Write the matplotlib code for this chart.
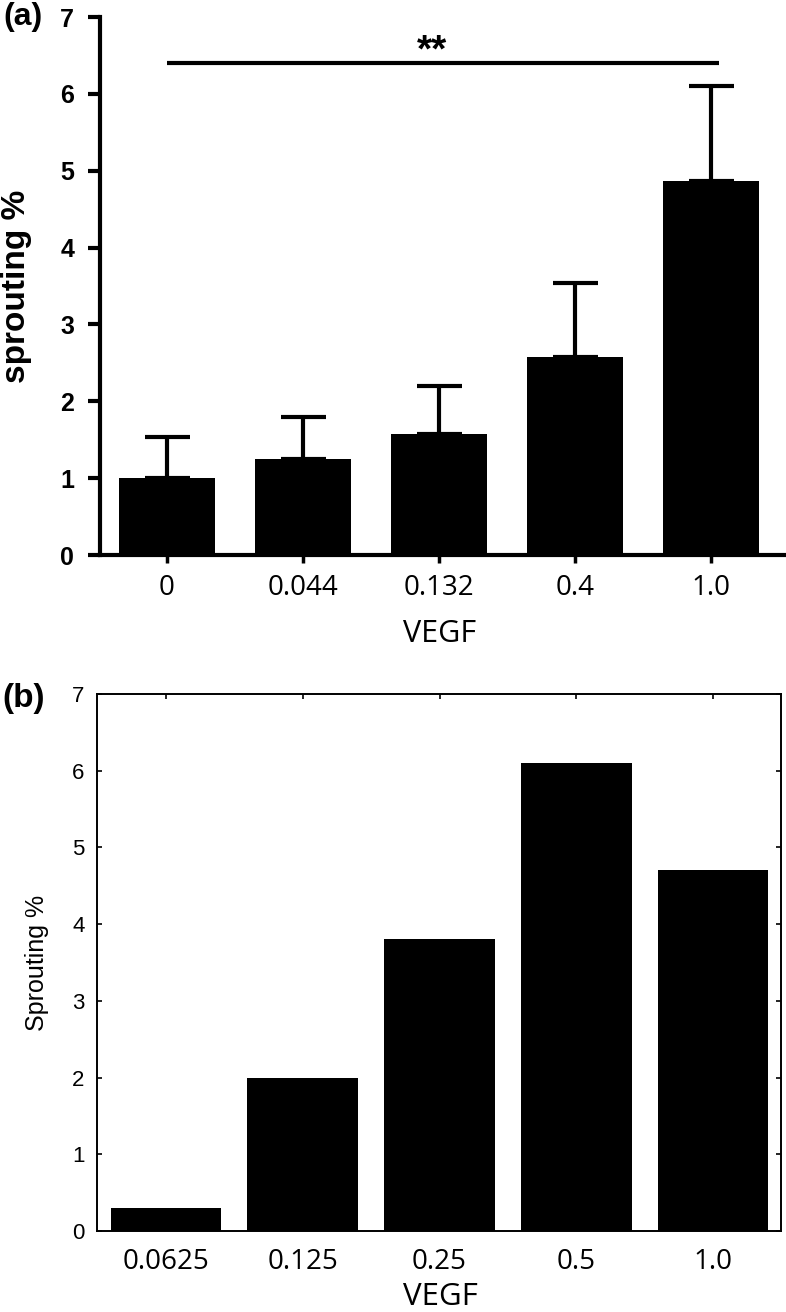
import matplotlib
matplotlib.use("Agg")
import matplotlib.pyplot as plt
import numpy as np

# ---- data ----
cats_a = ['0', '0.044', '0.132', '0.4', '1.0']
means_a = [1.00, 1.25, 1.57, 2.57, 4.86]
err_a = [0.54, 0.54, 0.63, 0.97, 1.24]

cats_b = ['0.0625', '0.125', '0.25', '0.5', '1.0']
vals_b = [0.30, 2.00, 3.80, 6.10, 4.70]

sig_text = '**'
sig_y = 6.40

W, H = 786, 1312
fig = plt.figure(figsize=(W / 100, H / 100), dpi=100)

def ax_rect(l, r, t, b):
    return [l / W, 1 - b / H, (r - l) / W, (b - t) / H]

# ---------------- panel (a) ----------------
ax = fig.add_axes(ax_rect(100, 784, 17, 555))
xa = np.arange(len(cats_a))
ax.bar(xa, means_a, width=0.70, color='black', zorder=2)
ax.errorbar(xa, means_a, yerr=[np.zeros(len(err_a)), err_a], fmt='none',
            ecolor='black', elinewidth=3, capsize=16.2, capthick=3, zorder=1)
ax.set_xlim(-0.493, 4.537)
ax.set_ylim(0, 7)
ax.set_yticks(range(0, 8))
ax.set_xticks(xa)
ax.set_xticklabels(cats_a, fontfamily='Open Sans', fontsize=20)
for lab in ax.get_yticklabels():
    lab.set_fontfamily('Liberation Sans')
    lab.set_fontweight('bold')
    lab.set_fontsize(18)
for s in ['top', 'right']:
    ax.spines[s].set_visible(False)
for s in ['left', 'bottom']:
    ax.spines[s].set_linewidth(3)
ax.tick_params(axis='y', direction='out', length=8.6, width=3, pad=10)
ax.tick_params(axis='x', direction='out', length=5.8, width=2.5, pad=8)
ax.set_ylabel('sprouting %', fontfamily='Liberation Sans', fontweight='bold', fontsize=24)
ax.yaxis.set_label_coords(-0.099, 0.5)
ax.set_xlabel('VEGF', fontfamily='Open Sans', fontsize=22)
ax.xaxis.set_label_coords(0.497, -0.119)
ax.plot([0, 4.06], [sig_y, sig_y], color='black', lw=3, solid_capstyle='butt', clip_on=False)
ax.text(1.95, sig_y + 0.02, sig_text, ha='center', va='baseline', fontsize=28,
        fontfamily='Liberation Sans', fontweight='bold')

# ---------------- panel (b) ----------------
bx = fig.add_axes(ax_rect(97, 781, 694, 1231))
xb = np.arange(len(cats_b))
bx.bar(xb, vals_b, width=0.81, color='black', zorder=2)
bx.set_xlim(-0.505, 4.497)
bx.set_ylim(0, 7)
bx.set_yticks(range(0, 8))
bx.set_xticks(xb)
bx.set_xticklabels(cats_b, fontfamily='Open Sans', fontsize=20)
for lab in bx.get_yticklabels():
    lab.set_fontfamily('Liberation Sans')
    lab.set_fontsize(16)
for s in bx.spines.values():
    s.set_linewidth(1.4)
bx.tick_params(axis='both', direction='in', length=3.6, width=1.2,
               top=True, right=True)
bx.tick_params(axis='y', pad=9)
bx.tick_params(axis='x', pad=12)
bx.set_ylabel('Sprouting %', fontfamily='Liberation Sans', fontsize=18)
bx.yaxis.set_label_coords(-0.07, 0.5)
bx.set_xlabel('VEGF', fontfamily='Open Sans', fontsize=22.5)
bx.xaxis.set_label_coords(0.5015, -0.095)

# panel labels
fig.text(3 / W, 1 - 2 / H, '(a)', ha='left', va='top', fontsize=23,
         fontfamily='Liberation Sans', fontweight='bold')
fig.text(2 / W, 1 - 683 / H, '(b)', ha='left', va='top', fontsize=24,
         fontfamily='Liberation Sans', fontweight='bold')

fig.savefig('out.png', dpi=100)
